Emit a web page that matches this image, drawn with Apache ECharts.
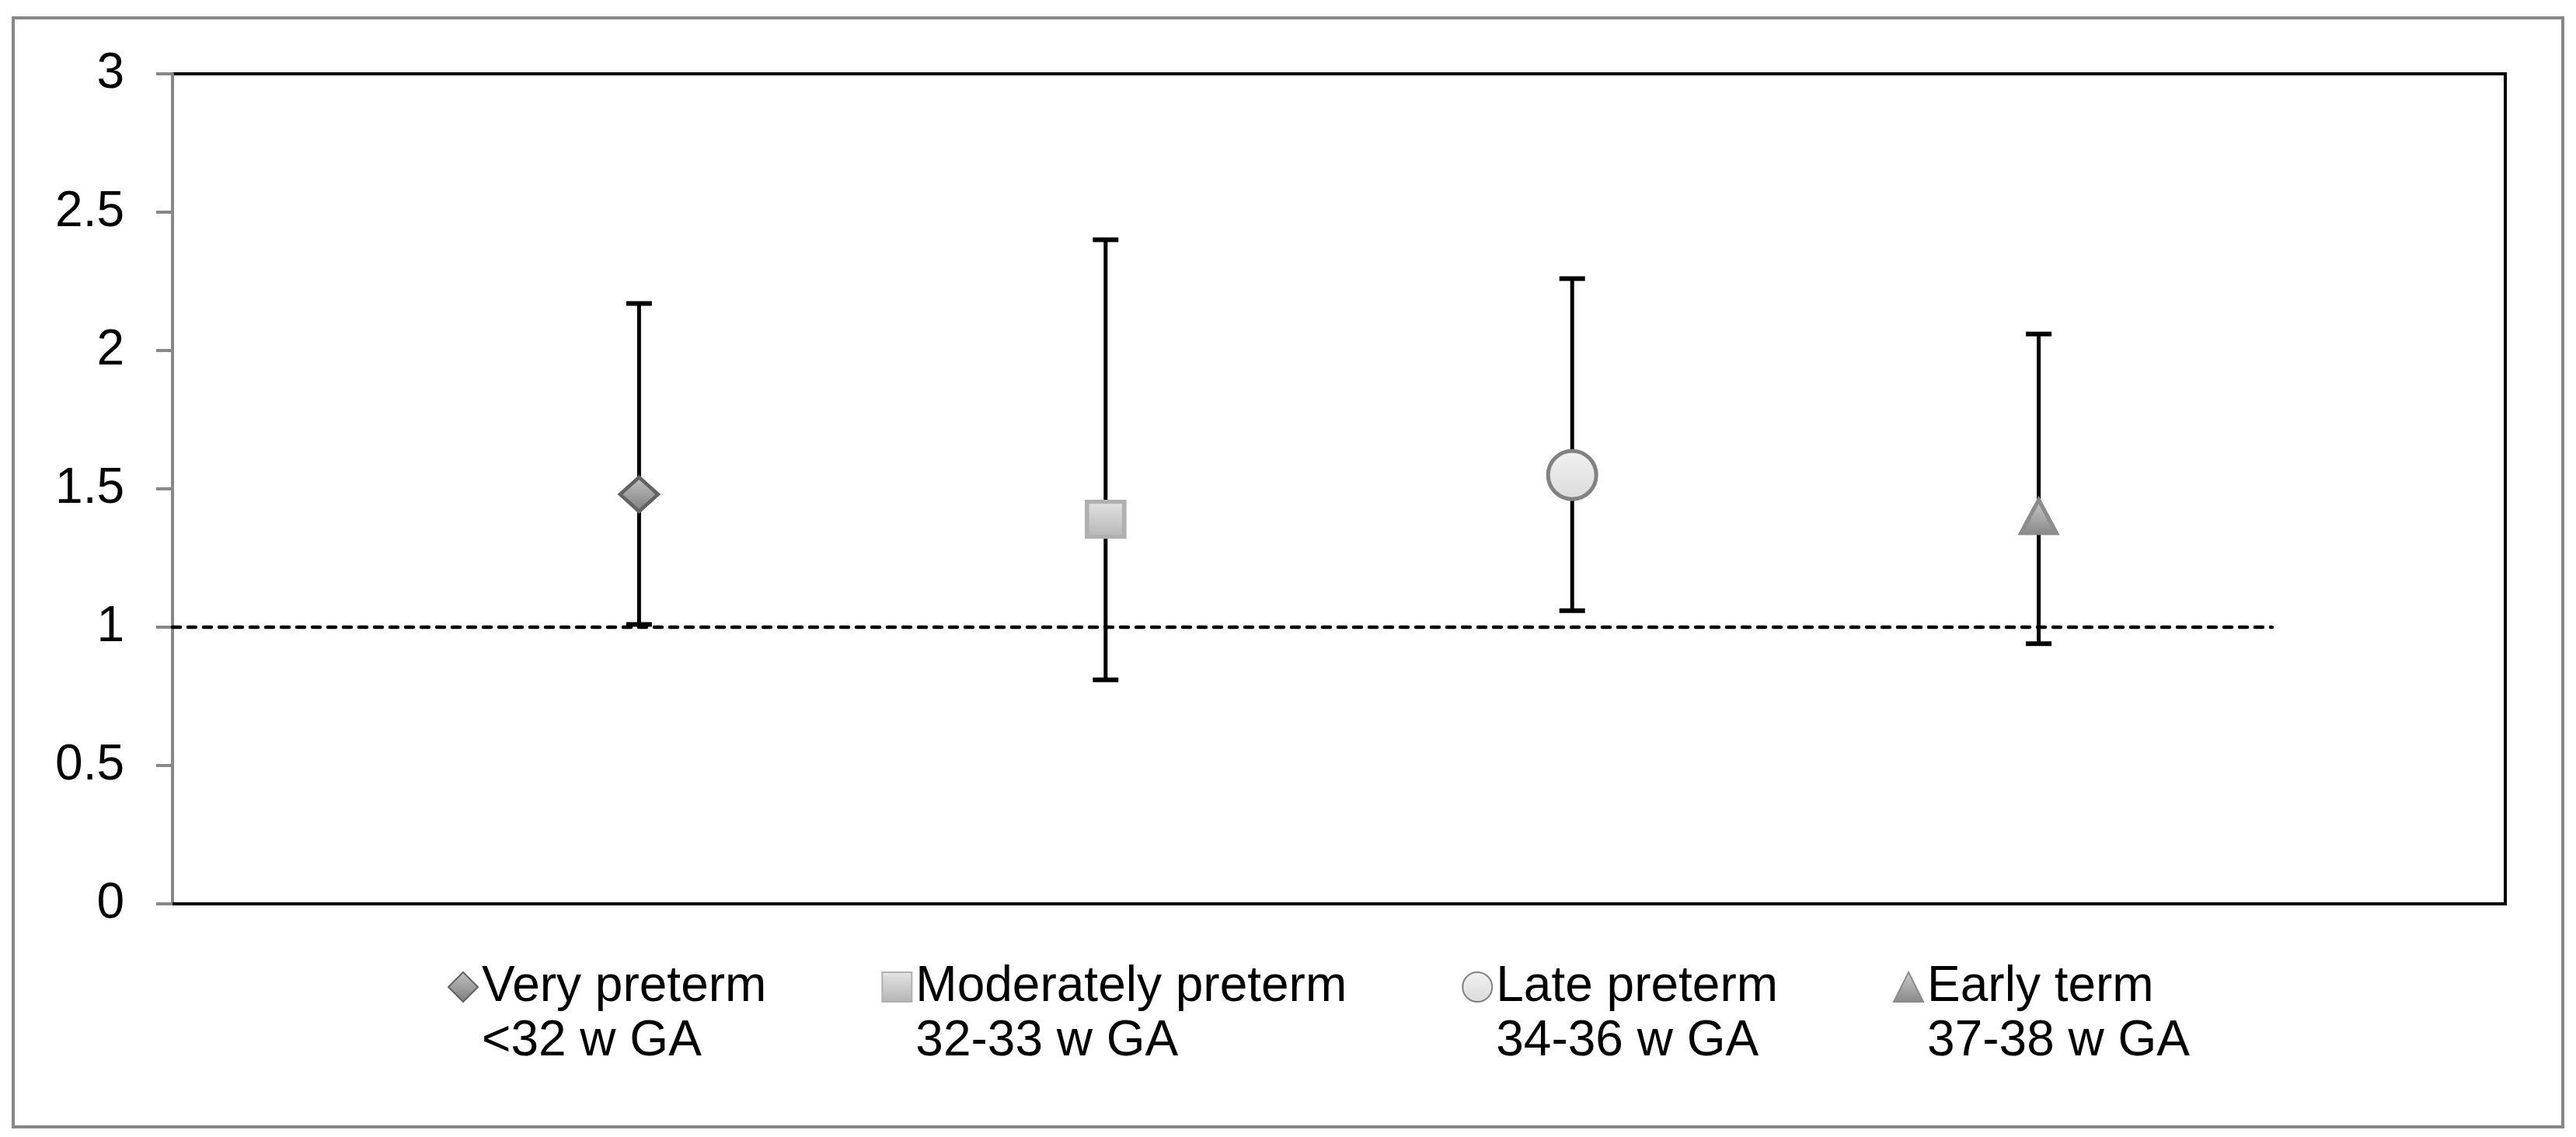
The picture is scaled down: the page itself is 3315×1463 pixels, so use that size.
<!DOCTYPE html>
<html>
<head>
<meta charset="utf-8">
<script src="https://cdn.jsdelivr.net/npm/echarts@6/dist/echarts.min.js"></script>
<style>
html,body{margin:0;padding:0;background:#fff;}
#chart{width:3315px;height:1463px;}
</style>
</head>
<body>
<div id="chart"></div>
<script>
// ---- data ----
const groupNames = ['Very preterm', 'Moderately preterm', 'Late preterm', 'Early term'];
const groupRanges = ['<32 w GA', '32-33 w GA', '34-36 w GA', '37-38 w GA'];
const groupIndex = [1, 2, 3, 4];
const estimates = [1.48, 1.39, 1.55, 1.40];
const lowerCI = [1.01, 0.81, 1.06, 0.94];
const upperCI = [2.17, 2.40, 2.26, 2.06];
const referenceLine = [[0, 1], [4.5, 1]];
const yMin = 0, yMax = 3, yStep = 0.5;
const xMin = 0, xMax = 5;

// ---- styles ----
const FONT = '"Liberation Sans", Arial, sans-serif';
function grad(top, bottom) {
  return new echarts.graphic.LinearGradient(0, 0, 0, 1, [
    {offset: 0, color: top}, {offset: 1, color: bottom}
  ]);
}
const markerStyles = [
  {symbol: 'diamond', size: [49, 44], fill: grad('#c4c4c4', '#7c7c7c'), border: '#636363', bw: 4.5},
  {symbol: 'rect', size: [48, 45], fill: grad('#e4e4e4', '#b4b4b4'), border: '#b0b0b0', bw: 5.5},
  {symbol: 'circle', size: 62, fill: grad('#f2f2f2', '#dadada'), border: '#828282', bw: 5},
  {symbol: 'triangle', size: [46, 43], fill: grad('#cccccc', '#888888'), border: '#8c8c8c', bw: 5}
];

const chart = echarts.init(document.getElementById('chart'), null, {renderer: 'canvas'});

const errorData = groupIndex.map((x, i) => [x, lowerCI[i], upperCI[i]]);

const series = [
  {
    type: 'line',
    name: 'ref',
    data: referenceLine,
    symbol: 'none',
    silent: true,
    z: 1,
    lineStyle: {color: '#000', width: 4.5, type: [10, 10], cap: 'round'}
  },
  {
    type: 'custom',
    name: 'ci',
    z: 2,
    silent: true,
    data: errorData,
    encode: {x: 0, y: [1, 2]},
    renderItem: function (params, api) {
      const x = api.value(0);
      const pLo = api.coord([x, api.value(1)]);
      const pHi = api.coord([x, api.value(2)]);
      const half = 16.5;
      return {
        type: 'group',
        children: [
          {type: 'line', shape: {x1: pLo[0], y1: pLo[1], x2: pHi[0], y2: pHi[1]}, style: {stroke: '#000', lineWidth: 5}},
          {type: 'line', shape: {x1: pHi[0] - half, y1: pHi[1], x2: pHi[0] + half, y2: pHi[1]}, style: {stroke: '#000', lineWidth: 6}},
          {type: 'line', shape: {x1: pLo[0] - half, y1: pLo[1], x2: pLo[0] + half, y2: pLo[1]}, style: {stroke: '#000', lineWidth: 6}}
        ]
      };
    }
  }
];

groupNames.forEach((name, i) => {
  const m = markerStyles[i];
  series.push({
    type: 'scatter',
    name: name,
    z: 3,
    data: [[groupIndex[i], estimates[i]]],
    symbol: m.symbol,
    symbolSize: m.size,
    itemStyle: {color: m.fill, borderColor: m.border, borderWidth: m.bw, opacity: 1}
  });
});

chart.setOption({
  animation: false,
  backgroundColor: '#fff',
  graphic: [{
    type: 'rect',
    z: -10,
    shape: {x: 17, y: 23, width: 3281, height: 1427},
    style: {fill: 'none', stroke: '#888', lineWidth: 4}
  }],
  grid: {
    left: 222, top: 95, right: 91, bottom: 300,
    show: true, borderColor: '#000', borderWidth: 4, backgroundColor: 'transparent'
  },
  xAxis: {
    type: 'value', min: xMin, max: xMax,
    axisLine: {show: true, onZero: false, lineStyle: {color: '#000', width: 4}},
    axisTick: {show: false}, axisLabel: {show: false}, splitLine: {show: false}
  },
  yAxis: {
    type: 'value', min: yMin, max: yMax, interval: yStep,
    axisLine: {show: true, lineStyle: {color: '#888', width: 4}},
    axisTick: {show: true, length: 21, lineStyle: {color: '#888', width: 4}},
    axisLabel: {fontSize: 64, fontFamily: FONT, color: '#000', margin: 62},
    splitLine: {show: false}
  },
  legend: {
    data: groupNames,
    left: 571, top: 1160,
    orient: 'horizontal',
    itemGap: 148,
    itemWidth: 38, itemHeight: 38,
    selectedMode: false,
    textStyle: {fontSize: 64, fontFamily: FONT, color: '#000', lineHeight: 70},
    formatter: function (name) {
      return ' \n' + name + '\n' + groupRanges[groupNames.indexOf(name)];
    }
  },
  series: series
});
</script>
</body>
</html>
